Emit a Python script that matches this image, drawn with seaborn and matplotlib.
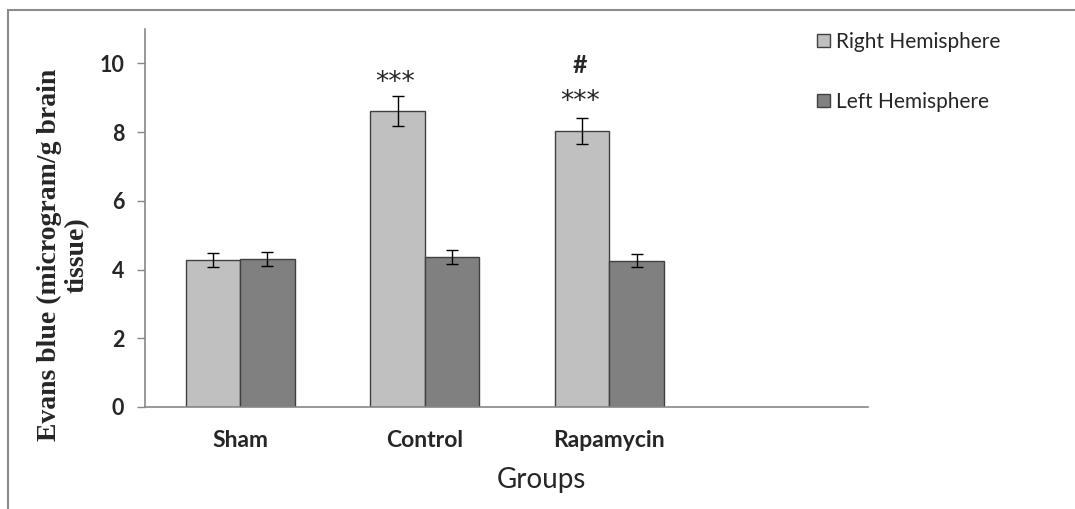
import pandas as pd
import matplotlib
matplotlib.use("Agg")
import matplotlib.pyplot as plt
import seaborn as sns
from matplotlib.patches import Patch, Rectangle

groups = ["Sham", "Control", "Rapamycin"]
hemispheres = ["Right Hemisphere", "Left Hemisphere"]
right_mean = [4.27, 8.62, 8.02]
right_err = [0.20, 0.44, 0.38]
left_mean = [4.30, 4.37, 4.26]
left_err = [0.21, 0.20, 0.20]
marks = {"Control": "***", "Rapamycin": "***"}
hash_marks = {"Rapamycin": "#"}

df = pd.DataFrame({
    "group": groups * 2,
    "hemisphere": [hemispheres[0]] * 3 + [hemispheres[1]] * 3,
    "value": right_mean + left_mean,
    "err": right_err + left_err,
})

sns.set_style("white")
plt.rcParams["font.family"] = ["Lato", "DejaVu Sans"]

colors = {"Right Hemisphere": "#c0c0c0", "Left Hemisphere": "#808080"}

fig = plt.figure(figsize=(10.75, 5.09), dpi=100)
ax = fig.add_axes([0.1349, 0.2004, 0.6725, 0.7426])

sns.barplot(data=df, x="group", y="value", hue="hemisphere", order=groups,
            hue_order=hemispheres, palette=colors, width=0.59, errorbar=None,
            edgecolor="#404040", linewidth=1, legend=False, ax=ax)

# error bars on top of each bar
errs = [right_err, left_err]
tops = {}
for cont, e in zip(ax.containers, errs):
    xs = [b.get_x() + b.get_width() / 2 for b in cont]
    ys = [b.get_height() for b in cont]
    ax.errorbar(xs, ys, yerr=e, fmt="none", ecolor="black", elinewidth=1,
                capsize=4, capthick=1)
    tops.setdefault("x", []).append(xs)
    tops.setdefault("y", []).append([y + v for y, v in zip(ys, e)])

# significance marks over right hemisphere bars
for i, g in enumerate(groups):
    x = tops["x"][0][i]
    y = tops["y"][0][i]
    if g in marks:
        off = 13 if g == "Control" else 16
        ax.annotate(marks[g], (x, y), xytext=(-2, off), textcoords="offset pixels",
                    ha="center", va="center", fontsize=19, family="DejaVu Sans")
    if g in hash_marks:
        ax.annotate(hash_marks[g], (x, y), xytext=(-2, 53), textcoords="offset pixels",
                    ha="center", va="center", fontsize=18, fontweight="bold")

ax.set_ylim(0, 11)
ax.set_xlim(-0.515, 3.40)
ax.set_yticks([0, 2, 4, 6, 8, 10])
for lab in ax.get_yticklabels() + ax.get_xticklabels():
    lab.set_fontweight("bold")
ax.tick_params(axis="y", left=True, length=6, width=1, color="#888888",
               labelsize=15.5, pad=9)
ax.tick_params(axis="x", bottom=False, labelsize=16.5, pad=13)

for s in ["top", "right"]:
    ax.spines[s].set_visible(False)
for s in ["left", "bottom"]:
    ax.spines[s].set_color("#888888")
    ax.spines[s].set_linewidth(1.2)

ax.set_xlabel("Groups", fontsize=20)
ax.xaxis.set_label_coords(0.548, -0.193)
ax.xaxis.label.set_va("center")

ax.set_ylabel("Evans blue (microgram/g brain\ntissue)", fontsize=20,
              fontweight="bold", family=["Liberation Serif", "DejaVu Serif"],
              linespacing=1.15)
ax.yaxis.set_label_coords(-0.113, 0.402)
ax.yaxis.label.set_va("center")

handles = [Patch(facecolor=colors[h], edgecolor="#404040", linewidth=1) for h in hemispheres]
fig.legend(handles, hemispheres, loc="upper left", bbox_to_anchor=(0.76, 0.937),
           frameon=False, fontsize=15, labelspacing=1.9, handlelength=0.6,
           handleheight=0.6, handletextpad=0.3, borderpad=0, borderaxespad=0)

# outer chart border
fig.add_artist(Rectangle((8 / 1075, -0.05), 1.2, 1.05 - 10 / 509,
                         transform=fig.transFigure, fill=False,
                         edgecolor="#8c8c8c", linewidth=1.5))

fig.savefig("out.png", dpi=100)
